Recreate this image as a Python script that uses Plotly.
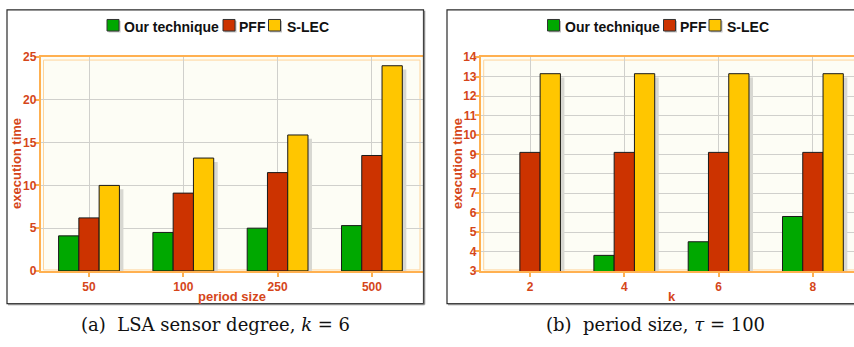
import plotly.graph_objects as go

# ---- data -------------------------------------------------------------
series_names = ["Our technique", "PFF", "S-LEC"]
series_colors = ["#00A800", "#CC3300", "#FFC600"]

period_sizes = ["50", "100", "250", "500"]
ours_a = [4.1, 4.5, 5.0, 5.3]
pff_a = [6.2, 9.1, 11.5, 13.5]
slec_a = [10.0, 13.2, 15.9, 24.0]

k_values = ["2", "4", "6", "8"]
ours_b = [None, 3.8, 4.5, 5.8]
pff_b = [9.1, 9.1, 9.1, 9.1]
slec_b = [13.15, 13.15, 13.15, 13.15]

yticks_a = [0, 5, 10, 15, 20, 25]
yticks_b = [3, 4, 5, 6, 7, 8, 9, 10, 11, 12, 13, 14]

# ---- page geometry (pixels) -------------------------------------------
W, H = 854, 347
def px(x):
    return x / W
def py(y):
    return 1 - y / H

TICK_COLOR = "#D5461A"
AXIS_ORANGE = "#FFB050"
INNER_ORANGE = "#FFD49A"
GRID = "#D0D0CC"
PLOT_BG = "#FDFDF5"
FONT = "Liberation Sans"

plot_top, plot_bot = 52.3, 275.0
cat_step = 94.3           # pixels between category centres
bar_w = 0.215             # bar width in category units
shadow_dx_px, shadow_dy_px = 4.0, 4.0

panels = [
    dict(cats=period_sizes, series=[ours_a, pff_a, slec_a], yr=[0, 25], yt=yticks_a,
         left=40.5, first=89.0, right=423.0, frame=(7, 3, 423.5, 309),
         xtitle="period size", caption="(a)  LSA sensor degree, <i>k</i> = 6",
         ytitle_x=16.5, mirror_y=True, cx=215.0),
    dict(cats=k_values, series=[ours_b, pff_b, slec_b], yr=[3, 14], yt=yticks_b,
         left=480.7, first=530.0, right=863.7, frame=(447, 3, 866, 309),
         xtitle="k", caption="(b)  period size, <i>τ</i> = 100",
         ytitle_x=457.5, mirror_y=False, cx=655.5),
]

fig = go.Figure()
shapes, annotations = [], []

for p_i, pn in enumerate(panels):
    sfx = "" if p_i == 0 else str(p_i + 1)
    xa, ya = "x" + sfx, "y" + sfx
    xpos = list(range(len(pn["cats"])))
    y_per_px = (pn["yr"][1] - pn["yr"][0]) / (plot_bot - plot_top)
    dx = shadow_dx_px / cat_step
    dy = shadow_dy_px * y_per_px

    # drop shadows first so the bars sit on top of them
    for s_i, vals in enumerate(pn["series"]):
        off = -1.5 * bar_w + s_i * bar_w
        sh = [None if v is None else v - dy for v in vals]
        fig.add_trace(go.Bar(x=xpos, y=sh, xaxis=xa, yaxis=ya, width=bar_w,
                             offset=off + dx, marker=dict(color="#D8D8D2", line=dict(width=0)),
                             showlegend=False, hoverinfo="skip"))
    for s_i, vals in enumerate(pn["series"]):
        off = -1.5 * bar_w + s_i * bar_w
        fig.add_trace(go.Bar(x=xpos, y=vals, xaxis=xa, yaxis=ya, width=bar_w, offset=off,
                             name=series_names[s_i],
                             marker=dict(color=series_colors[s_i],
                                         line=dict(color="#1A1A1A", width=1)),
                             showlegend=False))

    x0 = -(pn["first"] - pn["left"]) / cat_step
    dom_right = min(pn["right"], W)
    x1 = (dom_right - pn["first"]) / cat_step
    axis_common = dict(showline=True, linecolor=AXIS_ORANGE, linewidth=1.5,
                       ticks="outside", ticklen=4, tickcolor=AXIS_ORANGE, tickwidth=1.5,
                       showgrid=True, gridcolor=GRID, gridwidth=1.3, zeroline=False,
                       tickfont=dict(family=FONT, size=12, color=TICK_COLOR, weight="bold"))
    fig.update_layout(**{
        "xaxis" + sfx: dict(domain=[px(pn["left"]), px(dom_right)], range=[x0, x1],
                            tickvals=xpos, ticktext=pn["cats"], anchor=ya,
                            mirror=True, **axis_common),
        "yaxis" + sfx: dict(domain=[py(plot_bot), py(plot_top)], range=pn["yr"],
                            tickvals=pn["yt"], anchor=xa, mirror=pn["mirror_y"],
                            ticklabelstandoff=-4, **axis_common),
    })

    # inner orange rule of the plot frame
    ins = 3.0
    shapes.append(dict(type="rect", xref="paper", yref="paper",
                       x0=px(pn["left"] + ins), x1=px(pn["right"] - ins),
                       y0=py(plot_bot - 1), y1=py(plot_top + ins),
                       line=dict(color=INNER_ORANGE, width=1), layer="below"))

    # outer panel frame
    fx0, fy0, fx1, fy1 = pn["frame"]
    shapes.append(dict(type="rect", xref="paper", yref="paper",
                       x0=px(fx0), x1=px(fx1), y0=py(fy1), y1=py(fy0),
                       line=dict(color="#2A2A2A", width=1.2)))
    shapes.append(dict(type="line", xref="paper", yref="paper",
                       x0=px(fx0 + 1), x1=px(fx1 + 1), y0=py(fy1 + 1), y1=py(fy1 + 1),
                       line=dict(color="#8A8A8A", width=1.5)))
    shapes.append(dict(type="line", xref="paper", yref="paper",
                       x0=px(fx1 + 1), x1=px(fx1 + 1), y0=py(fy0 + 1), y1=py(fy1 + 1),
                       line=dict(color="#8A8A8A", width=1.5)))

    cx = pn["cx"]

    # legend row
    sq_off = [-108.0, 8.0, 53.5]
    tx_off = [-92.0, 23.5, 70.5]
    for s_i, name in enumerate(series_names):
        sx = cx + sq_off[s_i]
        shapes.append(dict(type="rect", xref="paper", yref="paper",
                           x0=px(sx + 1.5), x1=px(sx + 13.5), y0=py(26.5), y1=py(14.5),
                           fillcolor="#BDBDBD", line=dict(width=0)))
        shapes.append(dict(type="rect", xref="paper", yref="paper",
                           x0=px(sx), x1=px(sx + 12), y0=py(25), y1=py(13),
                           fillcolor=series_colors[s_i], line=dict(color="#333333", width=1)))
        annotations.append(dict(xref="paper", yref="paper", x=px(cx + tx_off[s_i]), y=py(21),
                                xanchor="left", yanchor="middle", showarrow=False,
                                borderpad=0,
                                text=name, font=dict(family=FONT, size=14, color="#111111",
                                                     weight="bold")))

    # axis titles
    annotations.append(dict(xref="paper", yref="paper", x=px(pn["ytitle_x"]),
                            y=py(163.0), textangle=-90,
                            xanchor="center", yanchor="middle", showarrow=False,
                            text="execution time",
                            font=dict(family=FONT, size=13, color=TICK_COLOR, weight="bold")))
    annotations.append(dict(xref="paper", yref="paper", x=px((pn["left"] + pn["right"]) / 2),
                            y=py(302.0), xanchor="center", yanchor="middle", showarrow=False,
                            text=pn["xtitle"],
                            font=dict(family=FONT, size=13, color=TICK_COLOR, weight="bold")))
    # caption
    annotations.append(dict(xref="paper", yref="paper", x=px(cx), y=py(331.0),
                            xanchor="center", yanchor="middle", showarrow=False,
                            text=pn["caption"],
                            font=dict(family="DejaVu Serif", size=18, color="#111111")))

fig.update_layout(width=W, height=H, margin=dict(l=0, r=0, t=0, b=0),
                  paper_bgcolor="white", plot_bgcolor=PLOT_BG, barmode="overlay",
                  shapes=shapes, annotations=annotations, showlegend=False)

fig.write_html("out.html")
